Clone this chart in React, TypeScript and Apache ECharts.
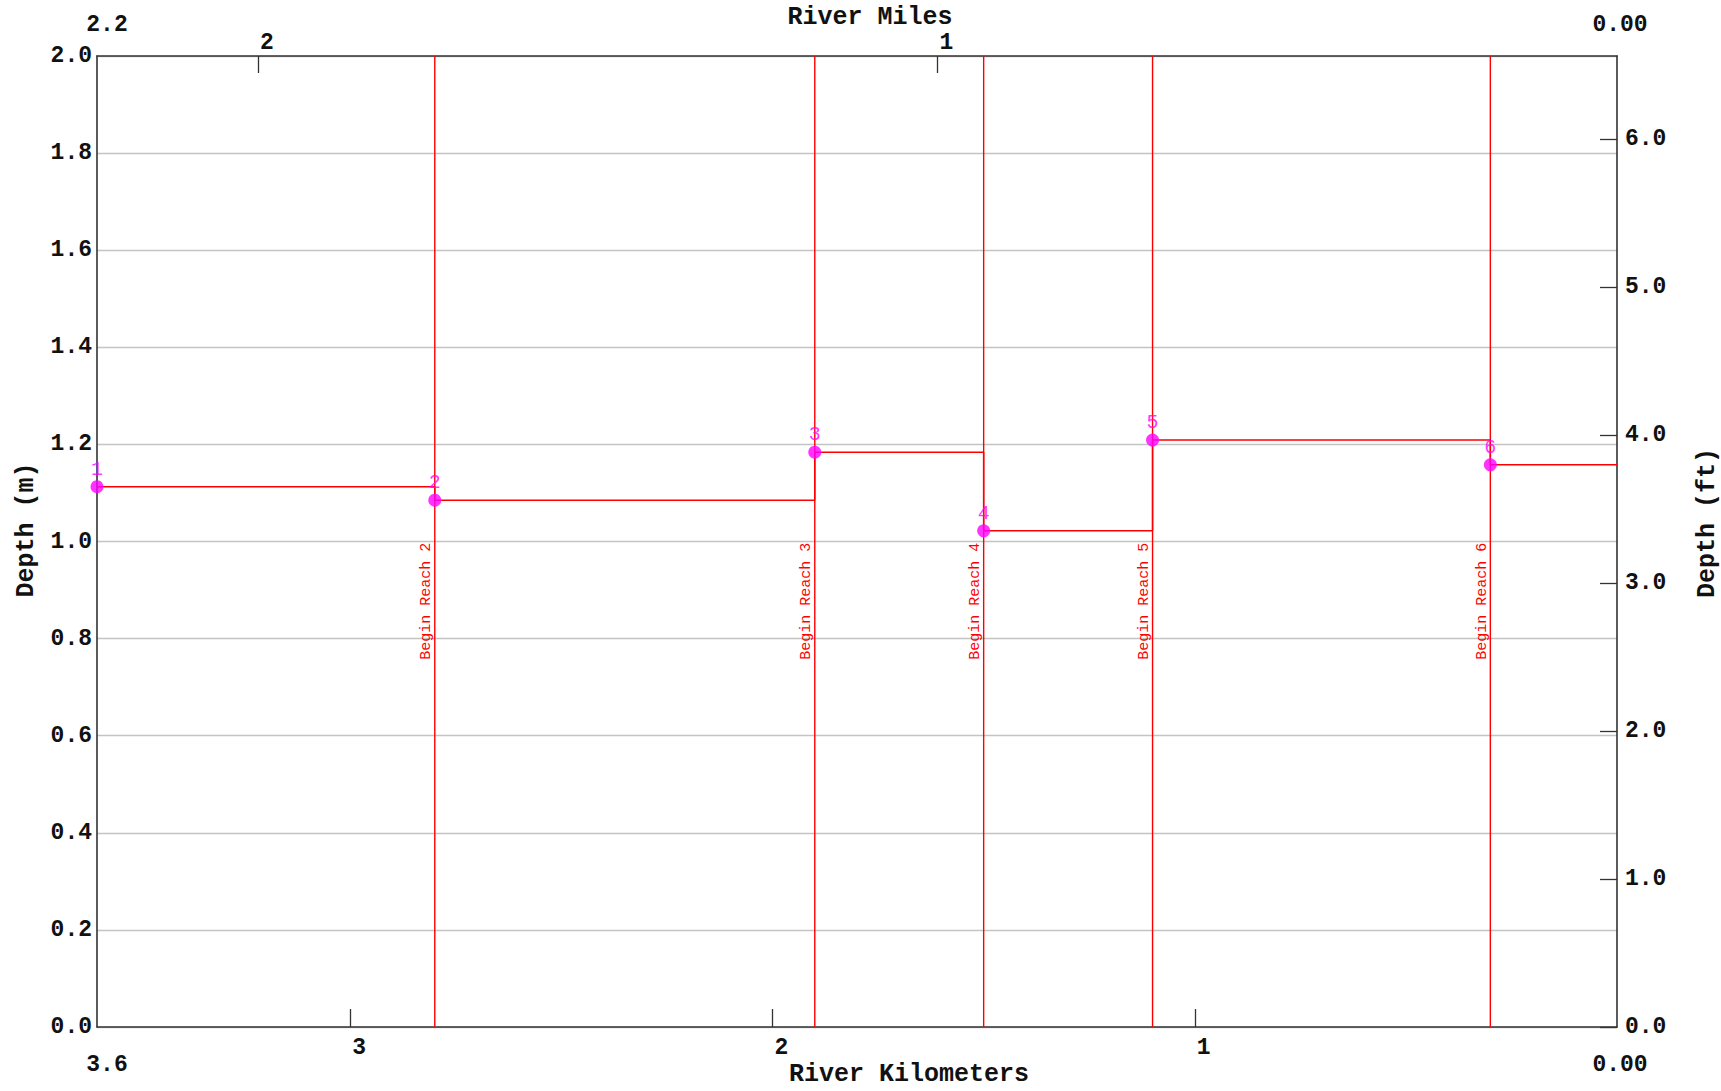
import React, { useEffect, useRef } from 'react';
import * as echarts from 'echarts';

// ---- data ----
const reachIds = ['1', '2', '3', '4', '5', '6'];
const reachStartKm = [3.6, 2.8, 1.9, 1.5, 1.1, 0.3];
const reachDepthM = [1.113, 1.085, 1.184, 1.022, 1.209, 1.158];
const riverEndKm = 0;
const boundaryKm = [2.8, 1.9, 1.5, 1.1, 0.3];
const boundaryLabels = ['Begin Reach 2', 'Begin Reach 3', 'Begin Reach 4', 'Begin Reach 5', 'Begin Reach 6'];
const kmRange = [0, 3.6];
const depthRangeM = [0, 2];
const KM_PER_MILE = 1.609344;
const M_PER_FT = 0.3048;
const cornerLabels = { topLeft: '2.2', topRight: '0.00', bottomLeft: '3.6', bottomRight: '0.00' };
const titles = { top: 'River Miles', bottom: 'River Kilometers', left: 'Depth (m)', right: 'Depth (ft)' };
const reachLabelDepth = 0.877;

const FONT = '"Liberation Mono", "DejaVu Sans Mono", monospace';
const AXIS_COLOR = '#333333';
const RED = '#ff0000';

export default function App() {
  const ref = useRef<HTMLDivElement>(null);
  useEffect(() => {
    const chart = echarts.init(ref.current as HTMLDivElement, null, { renderer: 'svg' });
    const lineData = reachStartKm
      .map((k, i) => [k, reachDepthM[i]])
      .concat([[riverEndKm, reachDepthM[reachDepthM.length - 1]]]);
    const markerData = reachStartKm.map((k, i) => ({ value: [k, reachDepthM[i]], name: reachIds[i] }));
    const boundaryData = boundaryKm.map((k, i) => ({ value: [k, reachLabelDepth], name: boundaryLabels[i] }));

    const tickLabel = { fontFamily: FONT, fontWeight: 'bold' as const, fontSize: 23, color: '#111' };
    const titleFont = `bold 25px ${FONT}`;

    chart.setOption({
      animation: false,
      backgroundColor: '#ffffff',
      grid: { left: 97, right: 104, top: 56, bottom: 64, containLabel: false, outerBoundsMode: 'none' },
      xAxis: [
        {
          type: 'value', position: 'bottom', min: kmRange[0], max: kmRange[1], interval: 1, inverse: true,
          axisLine: { show: true, onZero: false, lineStyle: { color: AXIS_COLOR, width: 1.6 } },
          axisTick: { show: true, inside: true, length: 18, lineStyle: { color: AXIS_COLOR, width: 1.3 } },
          axisLabel: { ...tickLabel, showMinLabel: false, showMaxLabel: false, margin: 9, align: 'left', padding: [0, 0, 0, 2], formatter: (v: number) => String(Math.round(v)) },
          splitLine: { show: false },
        },
        {
          type: 'value', position: 'top', min: 0, max: kmRange[1] / KM_PER_MILE, interval: 1, inverse: true,
          axisLine: { show: true, onZero: false, lineStyle: { color: AXIS_COLOR, width: 1.6 } },
          axisTick: { show: true, inside: true, length: 17, lineStyle: { color: AXIS_COLOR, width: 1.3 } },
          axisLabel: { ...tickLabel, showMinLabel: false, showMaxLabel: false, margin: 2, align: 'left', padding: [0, 0, 0, 2], formatter: (v: number) => String(Math.round(v)) },
          splitLine: { show: false },
        },
      ],
      yAxis: [
        {
          type: 'value', position: 'left', min: depthRangeM[0], max: depthRangeM[1], interval: 0.2,
          axisLine: { show: true, onZero: false, lineStyle: { color: AXIS_COLOR, width: 1.6 } },
          axisTick: { show: false },
          axisLabel: { ...tickLabel, margin: 5, formatter: (v: number) => v.toFixed(1) },
          splitLine: { show: true, lineStyle: { color: '#c4c4c4', width: 1.3 } },
        },
        {
          type: 'value', position: 'right', min: 0, max: depthRangeM[1] / M_PER_FT, interval: 1,
          axisLine: { show: true, onZero: false, lineStyle: { color: AXIS_COLOR, width: 1.6 } },
          axisTick: { show: true, inside: true, length: 17, lineStyle: { color: AXIS_COLOR, width: 1.3 } },
          axisLabel: { ...tickLabel, margin: 8, showMaxLabel: false, formatter: (v: number) => v.toFixed(1) },
          splitLine: { show: false },
        },
      ],
      series: [
        {
          type: 'custom', xAxisIndex: 0, yAxisIndex: 0, data: boundaryData, z: 2,
          renderItem: (params: any, api: any) => {
            const x = api.value(0);
            const top = api.coord([x, depthRangeM[1]]);
            const bot = api.coord([x, depthRangeM[0]]);
            const lab = api.coord([x, api.value(1)]);
            return {
              type: 'group',
              children: [
                { type: 'line', shape: { x1: bot[0], y1: bot[1], x2: top[0], y2: top[1] }, style: { stroke: RED, lineWidth: 1.4 } },
                {
                  type: 'text', x: lab[0] - 8, y: lab[1], rotation: Math.PI / 2,
                  style: { text: boundaryLabels[params.dataIndex], fill: RED, fontFamily: FONT, fontSize: 15, align: 'center', verticalAlign: 'middle' },
                },
              ],
            };
          },
        },
        {
          type: 'line', xAxisIndex: 0, yAxisIndex: 0, data: lineData, step: 'end', showSymbol: false, symbol: 'none',
          lineStyle: { color: RED, width: 1.5 }, z: 3,
        },
        {
          type: 'scatter', xAxisIndex: 0, yAxisIndex: 0, data: markerData, symbol: 'circle', symbolSize: 13,
          itemStyle: { color: '#ff00ff' }, z: 4,
          label: { show: true, position: 'top', distance: 1, formatter: '{b}', color: '#ff00ff', fontFamily: FONT, fontSize: 20 },
        },
      ],
      graphic: [
        { type: 'text', x: 107, y: 25, style: { text: cornerLabels.topLeft, font: `bold 23px ${FONT}`, fill: '#111', align: 'center', verticalAlign: 'middle' } },
        { type: 'text', x: 1620, y: 25, style: { text: cornerLabels.topRight, font: `bold 23px ${FONT}`, fill: '#111', align: 'center', verticalAlign: 'middle' } },
        { type: 'text', x: 107, y: 1065, style: { text: cornerLabels.bottomLeft, font: `bold 23px ${FONT}`, fill: '#111', align: 'center', verticalAlign: 'middle' } },
        { type: 'text', x: 1620, y: 1065, style: { text: cornerLabels.bottomRight, font: `bold 23px ${FONT}`, fill: '#111', align: 'center', verticalAlign: 'middle' } },
        { type: 'text', x: 870, y: 17, style: { text: titles.top, font: titleFont, fill: '#111', align: 'center', verticalAlign: 'middle' } },
        { type: 'text', x: 909, y: 1074, style: { text: titles.bottom, font: titleFont, fill: '#111', align: 'center', verticalAlign: 'middle' } },
        { type: 'text', x: 26, y: 530, rotation: Math.PI / 2, style: { text: titles.left, font: titleFont, fill: '#111', align: 'center', verticalAlign: 'middle' } },
        { type: 'text', x: 1707, y: 523, rotation: Math.PI / 2, style: { text: titles.right, font: titleFont, fill: '#111', align: 'center', verticalAlign: 'middle' } },
      ],
    });
    return () => chart.dispose();
  }, []);
  return <div ref={ref} style={{ position: 'fixed', left: 0, top: 0, width: 1721, height: 1091, background: '#fff' }} />;
}
